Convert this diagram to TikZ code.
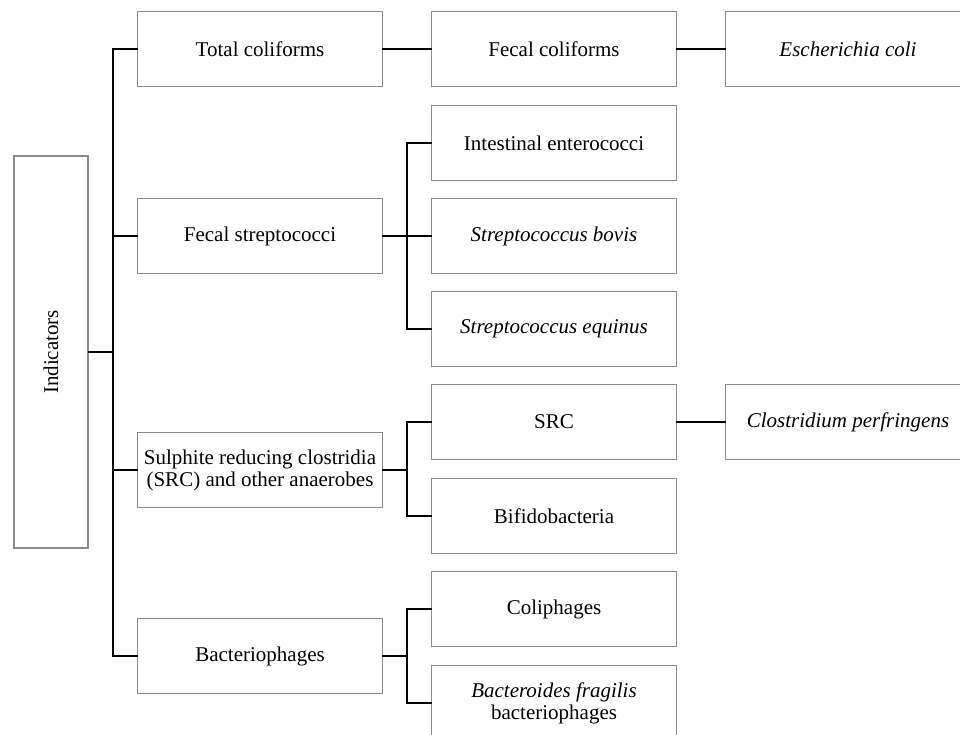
\documentclass[tikz,border=0pt]{standalone}
\usepackage{fontspec}
\setmainfont{Liberation Serif}
\definecolor{boxgray}{RGB}{140,140,140}
\begin{document}
\begin{tikzpicture}[x=1pt,y=-1pt,
  box/.style={draw=boxgray,line width=1.1pt,fill=white,minimum width=245pt,minimum height=75pt,inner sep=0pt,align=center,font=\fontsize{21}{22}\selectfont},
  conn/.style={line width=2pt,line cap=rect,line join=miter}]
\clip (0,0) rectangle (960,735);
\fill[white] (0,0) rectangle (960,735);
\node[box,minimum width=74pt,minimum height=392pt] (ind) at (51,352) {};
\node[rotate=90,font=\fontsize{21}{22}\selectfont] (indt) at (51,352) {Indicators};
\node[box] (tc) at (260,49) {Total coliforms};
\node[box] (fs) at (260,236) {Fecal streptococci};
\node[box] (sr) at (260,470) {Sulphite reducing clostridia\\(SRC) and other anaerobes};
\node[box] (bp) at (260,656) {Bacteriophages};
\node[box] (fc) at (554,49) {Fecal coliforms};
\node[box] (ie) at (554,143) {Intestinal enterococci};
\node[box] (sb) at (554,236) {\textit{Streptococcus bovis}};
\node[box] (se) at (554,329) {\textit{Streptococcus equinus}};
\node[box] (src) at (554,422) {SRC};
\node[box] (bif) at (554,516) {Bifidobacteria};
\node[box] (col) at (554,609) {Coliphages};
\node[box] (bfb) at (554,703) {\textit{Bacteroides fragilis}\\bacteriophages};
\node[box] (ec) at (848,49) {\textit{Escherichia coli}};
\node[box] (cp) at (848,422) {\textit{Clostridium perfringens}};
\coordinate (t1) at (113,0);
\coordinate (t2) at (407,0);
\draw[conn] (ind.east) -- (ind.east -| t1);
\draw[conn] (tc.west) -| (t1 |- bp.west) -- (bp.west);
\draw[conn] (fs.west) -- (fs.west -| t1);
\draw[conn] (sr.west) -- (sr.west -| t1);
\draw[conn] (tc.east) -- (fc.west);
\draw[conn] (fc.east) -- (ec.west);
\draw[conn] (ie.west) -| (t2 |- se.west) -- (se.west);
\draw[conn] (fs.east) -- (sb.west);
\draw[conn] (src.west) -| (t2 |- bif.west) -- (bif.west);
\draw[conn] (sr.east) -- (sr.east -| t2);
\draw[conn] (src.east) -- (cp.west);
\draw[conn] (col.west) -| (t2 |- bfb.west) -- (bfb.west);
\draw[conn] (bp.east) -- (bp.east -| t2);
\end{tikzpicture}
\end{document}
